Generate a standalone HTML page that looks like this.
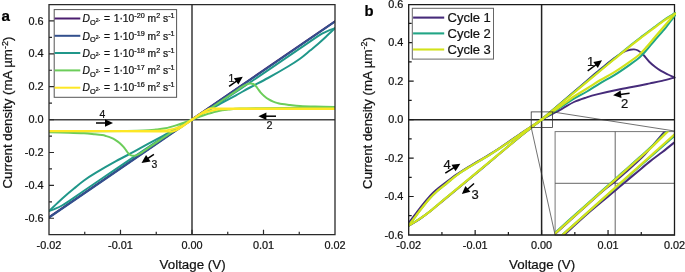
<!DOCTYPE html><html><head><meta charset="utf-8"><style>html,body{margin:0;padding:0;background:#fff;}svg{display:block;will-change:transform;}text{font-family:"Liberation Sans", sans-serif;stroke:#111;stroke-width:0.22px;paint-order:stroke;}</style></head><body>
<svg width="685" height="272" viewBox="0 0 685 272">
<rect width="685" height="272" fill="#fff"/>
<defs><clipPath id="ca"><rect x="49.0" y="4.6" width="286.0" height="230.1"/></clipPath>
<clipPath id="cb"><rect x="408.7" y="4.6" width="267.5" height="230.4"/></clipPath><clipPath id="ctip"><rect x="672.5" y="8" width="4" height="14"/></clipPath></defs>
<g stroke="#444" stroke-width="1.6" fill="none">
<line x1="49.0" y1="119.7" x2="335.0" y2="119.7"/>
<line x1="192.0" y1="4.6" x2="192.0" y2="234.7"/>
</g>
<g clip-path="url(#ca)" fill="none" stroke-linejoin="round" stroke-linecap="round">
<line x1="49" y1="217.16" x2="335" y2="21.24" stroke="#4a1d6f" stroke-width="2.0"/>
<line x1="49" y1="217.56" x2="335" y2="21.64" stroke="#33508d" stroke-width="2.0"/>
<path d="M192.00 119.60 C194.17 118.28 200.33 114.57 205.00 111.69 C209.67 108.81 214.17 106.07 220.00 102.32 C225.83 98.57 231.67 94.80 240.00 89.22 C248.33 83.64 260.00 75.67 270.00 68.87 C280.00 62.07 292.50 53.54 300.00 48.42 C307.50 43.30 311.33 40.60 315.00 38.14 C318.67 35.69 319.83 34.92 322.00 33.70 C324.17 32.48 325.83 31.72 328.00 30.80 C330.17 29.88 333.83 28.63 335.00 28.20" stroke="#20978a" stroke-width="2.0"/>
<path d="M192.00 119.60 C189.83 120.92 183.67 124.62 179.00 127.50 C174.33 130.38 169.83 133.13 164.00 136.88 C158.17 140.63 152.33 144.41 144.00 149.98 C135.67 155.55 124.00 163.53 114.00 170.33 C104.00 177.13 91.50 185.66 84.00 190.78 C76.50 195.90 72.67 198.60 69.00 201.06 C65.33 203.51 64.17 204.28 62.00 205.50 C59.83 206.72 58.17 207.48 56.00 208.40 C53.83 209.32 50.17 210.57 49.00 211.00" stroke="#20978a" stroke-width="2.0"/>
<path d="M335.00 28.20 C333.50 29.63 328.83 34.17 326.00 36.80 C323.17 39.43 320.67 41.70 318.00 44.00 C315.33 46.30 313.00 48.15 310.00 50.60 C307.00 53.05 303.67 56.05 300.00 58.70 C296.33 61.35 293.33 63.28 288.00 66.50 C282.67 69.72 274.33 74.50 268.00 78.00 C261.67 81.50 255.33 84.62 250.00 87.50 C244.67 90.38 241.00 92.57 236.00 95.30 C231.00 98.03 225.17 101.08 220.00 103.90 C214.83 106.72 209.67 109.58 205.00 112.20 C200.33 114.82 194.17 118.37 192.00 119.60" stroke="#20978a" stroke-width="2.0"/>
<path d="M49.00 211.00 C50.50 209.57 55.17 205.03 58.00 202.40 C60.83 199.77 63.33 197.50 66.00 195.20 C68.67 192.90 71.00 191.05 74.00 188.60 C77.00 186.15 80.33 183.15 84.00 180.50 C87.67 177.85 90.67 175.92 96.00 172.70 C101.33 169.48 109.67 164.70 116.00 161.20 C122.33 157.70 128.67 154.58 134.00 151.70 C139.33 148.82 143.00 146.63 148.00 143.90 C153.00 141.17 158.83 138.12 164.00 135.30 C169.17 132.48 174.33 129.62 179.00 127.00 C183.67 124.38 189.83 120.83 192.00 119.60" stroke="#20978a" stroke-width="2.0"/>
<path d="M192.00 119.60 C195.00 117.76 204.50 112.09 210.00 108.57 C215.50 105.05 220.67 101.41 225.00 98.49 C229.33 95.58 233.17 92.99 236.00 91.06 C238.83 89.13 240.25 88.01 242.00 86.90 C243.75 85.79 245.12 84.98 246.50 84.40 C247.88 83.82 249.15 83.47 250.30 83.40 C251.45 83.33 252.45 83.52 253.40 84.00 C254.35 84.48 255.23 85.47 256.00 86.30 C256.77 87.13 257.25 88.00 258.00 89.00 C258.75 90.00 259.43 91.10 260.50 92.30 C261.57 93.50 263.02 95.02 264.40 96.20 C265.78 97.38 267.33 98.50 268.80 99.40 C270.27 100.30 271.72 100.98 273.20 101.60 C274.68 102.22 276.23 102.68 277.70 103.10 C279.17 103.52 279.95 103.78 282.00 104.10 C284.05 104.42 287.00 104.70 290.00 105.00 C293.00 105.30 295.83 105.65 300.00 105.90 C304.17 106.15 309.17 106.33 315.00 106.50 C320.83 106.67 331.67 106.83 335.00 106.90" stroke="#6ccd5a" stroke-width="2.0"/>
<path d="M192.00 119.60 C189.00 121.44 179.50 127.11 174.00 130.63 C168.50 134.15 163.33 137.79 159.00 140.70 C154.67 143.62 150.83 146.21 148.00 148.14 C145.17 150.07 143.75 151.19 142.00 152.30 C140.25 153.41 138.88 154.22 137.50 154.80 C136.12 155.38 134.85 155.73 133.70 155.80 C132.55 155.87 131.55 155.68 130.60 155.20 C129.65 154.72 128.77 153.73 128.00 152.90 C127.23 152.07 126.75 151.20 126.00 150.20 C125.25 149.20 124.57 148.10 123.50 146.90 C122.43 145.70 120.98 144.18 119.60 143.00 C118.22 141.82 116.67 140.70 115.20 139.80 C113.73 138.90 112.28 138.22 110.80 137.60 C109.32 136.98 107.77 136.52 106.30 136.10 C104.83 135.68 104.05 135.42 102.00 135.10 C99.95 134.78 97.00 134.50 94.00 134.20 C91.00 133.90 88.17 133.55 84.00 133.30 C79.83 133.05 74.83 132.87 69.00 132.70 C63.17 132.53 52.33 132.37 49.00 132.30" stroke="#6ccd5a" stroke-width="2.0"/>
<path d="M335.00 107.30 C329.17 107.38 312.50 107.65 300.00 107.80 C287.50 107.95 270.00 108.07 260.00 108.20 C250.00 108.33 245.33 108.37 240.00 108.60 C234.67 108.83 231.57 109.22 228.00 109.60 C224.43 109.98 221.93 110.20 218.60 110.90 C215.27 111.60 211.10 112.85 208.00 113.80 C204.90 114.75 202.67 115.63 200.00 116.60 C197.33 117.57 193.33 119.10 192.00 119.60" stroke="#6ccd5a" stroke-width="2.0"/>
<path d="M49.00 131.90 C54.83 131.82 71.50 131.55 84.00 131.40 C96.50 131.25 114.00 131.13 124.00 131.00 C134.00 130.87 138.67 130.83 144.00 130.60 C149.33 130.37 152.43 129.98 156.00 129.60 C159.57 129.22 162.07 129.00 165.40 128.30 C168.73 127.60 172.90 126.35 176.00 125.40 C179.10 124.45 181.33 123.57 184.00 122.60 C186.67 121.63 190.67 120.10 192.00 119.60" stroke="#6ccd5a" stroke-width="2.0"/>
<path d="M192.00 119.60 C192.83 119.03 195.33 117.33 197.00 116.20 C198.67 115.07 200.42 113.82 202.00 112.80 C203.58 111.78 205.08 110.80 206.50 110.10 C207.92 109.40 209.08 108.90 210.50 108.60 C211.92 108.30 212.58 108.33 215.00 108.30 C217.42 108.27 205.00 108.35 225.00 108.40 C245.00 108.45 316.67 108.57 335.00 108.60" stroke="#fde725" stroke-width="2.0"/>
<path d="M192.00 119.60 C191.17 120.20 188.67 122.00 187.00 123.20 C185.33 124.40 183.58 125.72 182.00 126.80 C180.42 127.88 178.92 128.95 177.50 129.68 C176.08 130.41 174.92 130.90 173.50 131.20 C172.08 131.50 171.42 131.47 169.00 131.50 C166.58 131.53 179.00 131.45 159.00 131.40 C139.00 131.35 67.33 131.23 49.00 131.20" stroke="#fde725" stroke-width="2.0"/>
<path d="M335.00 108.90 C322.50 108.90 276.67 108.90 260.00 108.90 C243.33 108.90 241.63 108.85 235.00 108.90 C228.37 108.95 223.70 108.98 220.20 109.20 C216.70 109.42 216.03 109.78 214.00 110.20 C211.97 110.62 210.33 110.97 208.00 111.70 C205.67 112.43 202.67 113.28 200.00 114.60 C197.33 115.92 193.33 118.77 192.00 119.60" stroke="#fde725" stroke-width="2.0"/>
<path d="M49.00 130.90 C61.50 130.90 107.33 130.90 124.00 130.90 C140.67 130.90 142.37 130.95 149.00 130.90 C155.63 130.85 160.30 130.82 163.80 130.60 C167.30 130.38 167.97 130.02 170.00 129.60 C172.03 129.18 173.67 128.88 176.00 128.10 C178.33 127.32 181.33 126.34 184.00 124.92 C186.67 123.50 190.67 120.49 192.00 119.60" stroke="#fde725" stroke-width="2.0"/>
</g>
<path d="M49.0 4.6 H335.0 V234.7 H49.0 Z" fill="none" stroke="#2a2a2a" stroke-width="1.3"/>
<path d="M49.0 218.26 h5.0 M49.0 201.81 h3.0 M49.0 185.37 h5.0 M49.0 168.93 h3.0 M49.0 152.49 h5.0 M49.0 136.04 h3.0 M49.0 119.60 h5.0 M49.0 103.16 h3.0 M49.0 86.71 h5.0 M49.0 70.27 h3.0 M49.0 53.83 h5.0 M49.0 37.38 h3.0 M49.0 20.94 h5.0 M84.75 234.7 v-3.0 M120.50 234.7 v-5.0 M156.25 234.7 v-3.0 M192.00 234.7 v-5.0 M227.75 234.7 v-3.0 M263.50 234.7 v-5.0 M299.25 234.7 v-3.0" stroke="#2a2a2a" stroke-width="1.2" fill="none"/>
<rect x="54.2" y="9.6" width="122.4" height="87.7" fill="#fff" stroke="#555" stroke-width="1"/>
<line x1="54.6" y1="18.5" x2="80.3" y2="18.5" stroke="#4a1d6f" stroke-width="2.0"/>
<text x="82.6" y="22.2" font-size="10.3" fill="#111"><tspan font-style="italic">D</tspan><tspan font-size="7.4" dy="2.5">O</tspan><tspan font-size="5" dy="-3.2">2-</tspan><tspan dy="0.7" dx="1.0"> =</tspan><tspan dx="0.7"> 1·10</tspan><tspan font-size="7.2" dy="-4">-20</tspan><tspan dy="4"> m</tspan><tspan font-size="7.2" dy="-4">2</tspan><tspan dy="4"> s</tspan><tspan font-size="7.2" dy="-4">-1</tspan></text>
<line x1="54.6" y1="35.8" x2="80.3" y2="35.8" stroke="#33508d" stroke-width="2.0"/>
<text x="82.6" y="39.5" font-size="10.3" fill="#111"><tspan font-style="italic">D</tspan><tspan font-size="7.4" dy="2.5">O</tspan><tspan font-size="5" dy="-3.2">2-</tspan><tspan dy="0.7" dx="1.0"> =</tspan><tspan dx="0.7"> 1·10</tspan><tspan font-size="7.2" dy="-4">-19</tspan><tspan dy="4"> m</tspan><tspan font-size="7.2" dy="-4">2</tspan><tspan dy="4"> s</tspan><tspan font-size="7.2" dy="-4">-1</tspan></text>
<line x1="54.6" y1="53.0" x2="80.3" y2="53.0" stroke="#20978a" stroke-width="2.0"/>
<text x="82.6" y="56.7" font-size="10.3" fill="#111"><tspan font-style="italic">D</tspan><tspan font-size="7.4" dy="2.5">O</tspan><tspan font-size="5" dy="-3.2">2-</tspan><tspan dy="0.7" dx="1.0"> =</tspan><tspan dx="0.7"> 1·10</tspan><tspan font-size="7.2" dy="-4">-18</tspan><tspan dy="4"> m</tspan><tspan font-size="7.2" dy="-4">2</tspan><tspan dy="4"> s</tspan><tspan font-size="7.2" dy="-4">-1</tspan></text>
<line x1="54.6" y1="70.4" x2="80.3" y2="70.4" stroke="#6ccd5a" stroke-width="2.0"/>
<text x="82.6" y="74.1" font-size="10.3" fill="#111"><tspan font-style="italic">D</tspan><tspan font-size="7.4" dy="2.5">O</tspan><tspan font-size="5" dy="-3.2">2-</tspan><tspan dy="0.7" dx="1.0"> =</tspan><tspan dx="0.7"> 1·10</tspan><tspan font-size="7.2" dy="-4">-17</tspan><tspan dy="4"> m</tspan><tspan font-size="7.2" dy="-4">2</tspan><tspan dy="4"> s</tspan><tspan font-size="7.2" dy="-4">-1</tspan></text>
<line x1="54.6" y1="87.7" x2="80.3" y2="87.7" stroke="#fde725" stroke-width="2.0"/>
<text x="82.6" y="91.4" font-size="10.3" fill="#111"><tspan font-style="italic">D</tspan><tspan font-size="7.4" dy="2.5">O</tspan><tspan font-size="5" dy="-3.2">2-</tspan><tspan dy="0.7" dx="1.0"> =</tspan><tspan dx="0.7"> 1·10</tspan><tspan font-size="7.2" dy="-4">-16</tspan><tspan dy="4"> m</tspan><tspan font-size="7.2" dy="-4">2</tspan><tspan dy="4"> s</tspan><tspan font-size="7.2" dy="-4">-1</tspan></text>
<text x="43.6" y="221.9" font-size="10.9" text-anchor="end" fill="#111">-0.6</text>
<text x="43.6" y="189.0" font-size="10.9" text-anchor="end" fill="#111">-0.4</text>
<text x="43.6" y="156.1" font-size="10.9" text-anchor="end" fill="#111">-0.2</text>
<text x="43.6" y="123.2" font-size="10.9" text-anchor="end" fill="#111">0.0</text>
<text x="43.6" y="90.3" font-size="10.9" text-anchor="end" fill="#111">0.2</text>
<text x="43.6" y="57.4" font-size="10.9" text-anchor="end" fill="#111">0.4</text>
<text x="43.6" y="24.5" font-size="10.9" text-anchor="end" fill="#111">0.6</text>
<text x="49.0" y="248.8" font-size="10.9" text-anchor="middle" fill="#111">-0.02</text>
<text x="120.5" y="248.8" font-size="10.9" text-anchor="middle" fill="#111">-0.01</text>
<text x="192.0" y="248.8" font-size="10.9" text-anchor="middle" fill="#111">0.00</text>
<text x="263.5" y="248.8" font-size="10.9" text-anchor="middle" fill="#111">0.01</text>
<text x="335.0" y="248.8" font-size="10.9" text-anchor="middle" fill="#111">0.02</text>
<text x="192.6" y="268.5" font-size="13.35" text-anchor="middle" fill="#111">Voltage (V)</text>
<text transform="translate(12.3 112.6) rotate(-90)" font-size="13.25" text-anchor="middle" fill="#111">Current density (mA µm<tspan font-size="9" dy="-4.8">-2</tspan><tspan dy="4.8">)</tspan></text>
<text x="1.6" y="21.1" font-size="15.2" font-weight="bold" fill="#000" stroke="#000" stroke-width="0.2">a</text>
<line x1="229.1" y1="86.4" x2="236.9" y2="80.9" stroke="#000" stroke-width="1.5"/><path d="M242.80 76.70 L238.36 84.62 L233.85 78.26 Z" fill="#000"/>
<text x="228.6" y="81.6" font-size="10.4" fill="#111">1</text>
<line x1="276.0" y1="116.2" x2="265.4" y2="116.2" stroke="#000" stroke-width="1.5"/><path d="M258.40 116.20 L266.40 112.40 L266.40 120.00 Z" fill="#000"/>
<text x="266.6" y="128.9" font-size="10.8" fill="#111">2</text>
<line x1="153.9" y1="154.3" x2="147.5" y2="158.7" stroke="#000" stroke-width="1.5"/><path d="M141.50 162.90 L146.04 154.88 L150.60 161.46 Z" fill="#000"/>
<text x="151.4" y="167.9" font-size="10.4" fill="#111">3</text>
<line x1="96.0" y1="123.0" x2="106.0" y2="123.0" stroke="#000" stroke-width="1.5"/><path d="M113.00 123.00 L105.00 126.70 L105.00 119.30 Z" fill="#000"/>
<text x="99.6" y="117.6" font-size="10.4" fill="#111">4</text>
<g stroke="#222" stroke-width="1.5" fill="none">
<line x1="408.7" y1="119.7" x2="674.5" y2="119.7"/>
<line x1="541.6" y1="4.6" x2="541.6" y2="235.0"/>
</g>
<g clip-path="url(#cb)" fill="none" stroke-linejoin="round" stroke-linecap="round">
<path d="M541.40 119.60 C543.83 117.55 550.57 111.93 556.00 107.30 C561.43 102.67 567.67 97.27 574.00 91.80 C580.33 86.33 589.67 78.22 594.00 74.50 C598.33 70.78 597.83 71.28 600.00 69.50 C602.17 67.72 604.67 65.67 607.00 63.80 C609.33 61.93 611.83 59.90 614.00 58.30 C616.17 56.70 618.00 55.42 620.00 54.20 C622.00 52.98 624.33 51.73 626.00 51.00 C627.67 50.27 628.67 50.07 630.00 49.80 C631.33 49.53 632.67 49.28 634.00 49.40 C635.33 49.52 636.50 49.65 638.00 50.50 C639.50 51.35 641.17 52.67 643.00 54.50 C644.83 56.33 647.00 59.45 649.00 61.50 C651.00 63.55 653.00 65.23 655.00 66.80 C657.00 68.37 658.83 69.62 661.00 70.90 C663.17 72.18 665.75 73.40 668.00 74.50 C670.25 75.60 673.42 77.00 674.50 77.50" stroke="#462b7a" stroke-width="1.9"/>
<path d="M674.50 77.50 C672.42 78.05 666.08 79.82 662.00 80.80 C657.92 81.78 653.67 82.62 650.00 83.40 C646.33 84.18 645.00 84.52 640.00 85.50 C635.00 86.48 627.00 87.85 620.00 89.30 C613.00 90.75 603.67 92.82 598.00 94.20 C592.33 95.58 590.00 96.30 586.00 97.60 C582.00 98.90 578.00 100.13 574.00 102.00 C570.00 103.87 565.83 106.70 562.00 108.80 C558.17 110.90 554.40 112.80 551.00 114.60 C547.60 116.40 543.17 118.77 541.60 119.60" stroke="#462b7a" stroke-width="1.9"/>
<path d="M541.60 119.60 C538.83 121.43 530.27 127.05 525.00 130.60 C519.73 134.15 514.17 138.05 510.00 140.90 C505.83 143.75 503.33 145.50 500.00 147.70 C496.67 149.90 493.33 152.05 490.00 154.10 C486.67 156.15 483.33 158.00 480.00 160.00 C476.67 162.00 472.83 164.40 470.00 166.10 C467.17 167.80 465.33 168.75 463.00 170.20 C460.67 171.65 458.17 173.30 456.00 174.80 C453.83 176.30 452.00 177.72 450.00 179.20 C448.00 180.68 446.17 182.03 444.00 183.70 C441.83 185.37 439.33 187.18 437.00 189.20 C434.67 191.22 432.58 193.00 430.00 195.80 C427.42 198.60 424.00 202.88 421.50 206.00 C419.00 209.12 417.08 211.75 415.00 214.50 C412.92 217.25 410.00 221.17 409.00 222.50" stroke="#462b7a" stroke-width="1.9"/>
<path d="M541.60 119.90 C538.83 122.05 530.27 128.60 525.00 132.80 C519.73 137.00 516.17 139.98 510.00 145.10 C503.83 150.22 494.83 157.82 488.00 163.50 C481.17 169.18 476.33 173.13 469.00 179.20 C461.67 185.27 450.50 194.50 444.00 199.90 C437.50 205.30 434.00 208.43 430.00 211.60 C426.00 214.77 423.50 216.55 420.00 218.90 C416.50 221.25 410.83 224.57 409.00 225.70" stroke="#462b7a" stroke-width="1.9"/>
<path d="M541.60 119.60 C546.33 115.57 560.27 103.60 570.00 95.40 C579.73 87.20 592.33 76.77 600.00 70.40 C607.67 64.03 611.00 61.32 616.00 57.20 C621.00 53.08 625.67 49.17 630.00 45.70 C634.33 42.23 638.00 39.45 642.00 36.40 C646.00 33.35 650.33 30.13 654.00 27.40 C657.67 24.67 661.33 21.87 664.00 20.00 C666.67 18.13 668.17 17.35 670.00 16.20 C671.83 15.05 674.17 13.62 675.00 13.10" stroke="#21a585" stroke-width="2.0"/>
<path d="M675.00 15.20 C673.50 17.22 669.33 23.17 666.00 27.30 C662.67 31.43 658.17 36.28 655.00 40.00 C651.83 43.72 649.50 46.77 647.00 49.60 C644.50 52.43 642.83 54.50 640.00 57.00 C637.17 59.50 634.33 61.53 630.00 64.60 C625.67 67.67 619.00 72.28 614.00 75.40 C609.00 78.52 604.50 80.62 600.00 83.30 C595.50 85.98 591.33 88.94 587.00 91.50 C582.67 94.06 578.50 95.96 574.00 98.66 C569.50 101.36 565.40 104.24 560.00 107.73 C554.60 111.22 544.67 117.62 541.60 119.60" stroke="#21a585" stroke-width="2.0"/>
<path d="M541.60 119.60 C538.83 121.50 530.27 127.38 525.00 131.00 C519.73 134.62 514.17 138.43 510.00 141.30 C505.83 144.17 503.33 145.98 500.00 148.20 C496.67 150.42 493.33 152.53 490.00 154.60 C486.67 156.67 483.33 158.60 480.00 160.60 C476.67 162.60 472.83 164.88 470.00 166.60 C467.17 168.32 465.33 169.37 463.00 170.90 C460.67 172.43 458.17 174.18 456.00 175.80 C453.83 177.42 452.00 178.97 450.00 180.60 C448.00 182.23 446.17 183.82 444.00 185.60 C441.83 187.38 439.33 189.20 437.00 191.30 C434.67 193.40 432.58 195.33 430.00 198.20 C427.42 201.07 424.00 205.35 421.50 208.50 C419.00 211.65 417.08 214.33 415.00 217.10 C412.92 219.87 410.00 223.77 409.00 225.10" stroke="#21a585" stroke-width="2.0"/>
<path d="M541.60 119.60 C538.83 121.75 530.27 128.30 525.00 132.50 C519.73 136.70 516.17 139.68 510.00 144.80 C503.83 149.92 494.83 157.52 488.00 163.20 C481.17 168.88 476.33 172.83 469.00 178.90 C461.67 184.97 450.50 194.20 444.00 199.60 C437.50 205.00 434.00 208.13 430.00 211.30 C426.00 214.47 423.50 216.25 420.00 218.60 C416.50 220.95 410.83 224.27 409.00 225.40" stroke="#21a585" stroke-width="2.0"/>
<path d="M541.60 119.60 C546.33 115.67 560.27 104.10 570.00 96.00 C579.73 87.90 592.33 77.37 600.00 71.00 C607.67 64.63 611.00 61.92 616.00 57.80 C621.00 53.68 625.67 49.77 630.00 46.30 C634.33 42.83 638.00 40.05 642.00 37.00 C646.00 33.95 650.33 30.73 654.00 28.00 C657.67 25.27 661.33 22.47 664.00 20.60 C666.67 18.73 668.17 17.95 670.00 16.80 C671.83 15.65 674.17 14.22 675.00 13.70" stroke="#d2e21b" stroke-width="2.2"/>
<path d="M675.00 13.70 C673.50 15.47 669.33 20.42 666.00 24.30 C662.67 28.18 658.17 33.28 655.00 37.00 C651.83 40.72 649.50 43.77 647.00 46.60 C644.50 49.43 642.83 51.50 640.00 54.00 C637.17 56.50 634.33 58.53 630.00 61.60 C625.67 64.67 619.00 69.28 614.00 72.40 C609.00 75.52 604.50 77.62 600.00 80.30 C595.50 82.98 591.33 85.80 587.00 88.50 C582.67 91.20 578.50 93.50 574.00 96.50 C569.50 99.50 565.40 102.65 560.00 106.50 C554.60 110.35 544.67 117.42 541.60 119.60" stroke="#d2e21b" stroke-width="2.2"/>
<path d="M541.60 119.60 C538.83 121.50 530.27 127.38 525.00 131.00 C519.73 134.62 514.17 138.43 510.00 141.30 C505.83 144.17 503.33 145.98 500.00 148.20 C496.67 150.42 493.33 152.53 490.00 154.60 C486.67 156.67 483.33 158.60 480.00 160.60 C476.67 162.60 472.83 164.88 470.00 166.60 C467.17 168.32 465.33 169.37 463.00 170.90 C460.67 172.43 458.17 174.18 456.00 175.80 C453.83 177.42 452.00 178.97 450.00 180.60 C448.00 182.23 446.17 183.82 444.00 185.60 C441.83 187.38 439.33 189.20 437.00 191.30 C434.67 193.40 432.58 195.33 430.00 198.20 C427.42 201.07 424.00 205.35 421.50 208.50 C419.00 211.65 417.08 214.33 415.00 217.10 C412.92 219.87 410.00 223.77 409.00 225.10" stroke="#d2e21b" stroke-width="2.2"/>
<path d="M541.60 119.60 C538.83 121.75 530.27 128.30 525.00 132.50 C519.73 136.70 516.17 139.68 510.00 144.80 C503.83 149.92 494.83 157.52 488.00 163.20 C481.17 168.88 476.33 172.83 469.00 178.90 C461.67 184.97 450.50 194.20 444.00 199.60 C437.50 205.00 434.00 208.13 430.00 211.30 C426.00 214.47 423.50 216.25 420.00 218.60 C416.50 220.95 410.83 224.27 409.00 225.40" stroke="#d2e21b" stroke-width="2.2"/>
</g>
<rect x="555.1" y="131.6" width="119.4" height="103.4" fill="#fff" stroke="#777" stroke-width="1"/>
<g stroke="#555" stroke-width="0.9" fill="none">
<line x1="555.1" y1="183.3" x2="674.5" y2="183.3"/>
<line x1="615.2" y1="131.6" x2="615.2" y2="235.0"/>
</g>
<defs><clipPath id="ci"><rect x="555.1" y="131.6" width="119.4" height="103.4"/></clipPath></defs>
<g clip-path="url(#ci)" fill="none" stroke-linecap="butt">
<path d="M554.20 234.80 C558.25 231.13 570.28 220.18 578.50 212.80 C586.72 205.42 597.50 195.63 603.50 190.50 C609.50 185.37 611.05 184.82 614.50 182.00 C617.95 179.18 619.65 177.67 624.20 173.60 C628.75 169.53 637.25 162.07 641.80 157.60 C646.35 153.13 647.55 151.30 651.50 146.80 C655.45 142.30 663.17 133.30 665.50 130.60" stroke="#462b7a" stroke-width="2.0"/>
<path d="M552.70 234.80 C556.78 231.13 568.95 220.18 577.20 212.80 C585.45 205.42 594.87 197.03 602.20 190.50 C609.53 183.97 615.03 179.08 621.20 173.60 C627.37 168.12 634.20 162.07 639.20 157.60 C644.20 153.13 646.45 151.30 651.20 146.80 C655.95 142.30 664.95 133.30 667.70 130.60" stroke="#21a585" stroke-width="2.0"/>
<path d="M553.50 234.80 C557.58 231.13 569.75 220.18 578.00 212.80 C586.25 205.42 595.67 197.03 603.00 190.50 C610.33 183.97 615.83 179.08 622.00 173.60 C628.17 168.12 635.00 162.07 640.00 157.60 C645.00 153.13 647.25 151.30 652.00 146.80 C656.75 142.30 665.75 133.30 668.50 130.60" stroke="#d2e21b" stroke-width="2.3"/>
<path d="M563.50 235.50 C567.92 231.50 581.27 219.08 590.00 211.50 C598.73 203.92 610.32 194.68 615.90 190.00 C621.48 185.32 619.98 186.37 623.50 183.40 C627.02 180.43 632.58 175.87 637.00 172.20 C641.42 168.53 645.77 164.77 650.00 161.40 C654.23 158.03 658.15 155.32 662.40 152.00 C666.65 148.68 673.32 143.25 675.50 141.50" stroke="#462b7a" stroke-width="2.0"/>
<path d="M561.00 236.00 C570.90 227.23 601.32 200.23 620.40 183.40 C639.48 166.57 666.32 143.07 675.50 135.00" stroke="#21a585" stroke-width="2.0"/>
<path d="M560.20 237.00 L675.50 133.50" stroke="#d2e21b" stroke-width="2.3"/>
</g>
<rect x="531.2" y="111.9" width="21.3" height="15.5" fill="none" stroke="#333" stroke-width="0.8"/>
<line x1="552.5" y1="111.9" x2="674.5" y2="131.0" stroke="#333" stroke-width="0.7"/>
<line x1="531.2" y1="127.4" x2="555.1" y2="235.0" stroke="#333" stroke-width="0.7"/>
<path d="M408.7 4.6 H674.5 V235.0 H408.7 Z" fill="none" stroke="#1a1a1a" stroke-width="1.3"/>
<path d="M408.7 215.72 h3.0 M408.7 196.50 h5.0 M408.7 177.28 h3.0 M408.7 158.05 h5.0 M408.7 138.82 h3.0 M408.7 119.60 h5.0 M408.7 100.38 h3.0 M408.7 81.15 h5.0 M408.7 61.92 h3.0 M408.7 42.70 h5.0 M408.7 23.47 h3.0 M441.93 235.0 v-3.0 M475.15 235.0 v-5.0 M508.38 235.0 v-3.0 M541.60 235.0 v-5.0 M574.83 235.0 v-3.0 M608.05 235.0 v-5.0 M641.27 235.0 v-3.0" stroke="#1a1a1a" stroke-width="1.2" fill="none"/>
<g clip-path="url(#ctip)" fill="none" stroke-linejoin="round" stroke-linecap="round">
<path d="M654.00 27.40 C655.67 26.17 661.33 21.87 664.00 20.00 C666.67 18.13 668.17 17.35 670.00 16.20 C671.83 15.05 674.17 13.62 675.00 13.10" stroke="#21a585" stroke-width="2.0"/>
<path d="M675.00 15.20 C673.50 17.22 669.33 23.17 666.00 27.30 C662.67 31.43 658.17 36.28 655.00 40.00 C651.83 43.72 648.33 48.00 647.00 49.60" stroke="#21a585" stroke-width="2.0"/>
<path d="M654.00 28.00 C655.67 26.77 661.33 22.47 664.00 20.60 C666.67 18.73 668.17 17.95 670.00 16.80 C671.83 15.65 674.17 14.22 675.00 13.70" stroke="#d2e21b" stroke-width="2.2"/>
<path d="M675.00 13.70 C673.50 15.47 669.33 20.42 666.00 24.30 C662.67 28.18 658.17 33.28 655.00 37.00 C651.83 40.72 648.33 45.00 647.00 46.60" stroke="#d2e21b" stroke-width="2.2"/>
</g>
<rect x="412.3" y="8.3" width="81.2" height="50.8" fill="#fff" stroke="#666" stroke-width="1"/>
<line x1="413.1" y1="17.6" x2="444.2" y2="17.6" stroke="#462b7a" stroke-width="2.1"/>
<text x="447.5" y="22.0" font-size="13" fill="#111">Cycle 1</text>
<line x1="413.1" y1="33.4" x2="444.2" y2="33.4" stroke="#21a585" stroke-width="2.1"/>
<text x="447.5" y="37.8" font-size="13" fill="#111">Cycle 2</text>
<line x1="413.1" y1="49.5" x2="444.2" y2="49.5" stroke="#d2e21b" stroke-width="2.1"/>
<text x="447.5" y="53.9" font-size="13" fill="#111">Cycle 3</text>
<text x="403.4" y="238.6" font-size="10.9" text-anchor="end" fill="#111">-0.6</text>
<text x="403.4" y="200.1" font-size="10.9" text-anchor="end" fill="#111">-0.4</text>
<text x="403.4" y="161.7" font-size="10.9" text-anchor="end" fill="#111">-0.2</text>
<text x="403.4" y="123.2" font-size="10.9" text-anchor="end" fill="#111">0.0</text>
<text x="403.4" y="84.7" font-size="10.9" text-anchor="end" fill="#111">0.2</text>
<text x="403.4" y="46.3" font-size="10.9" text-anchor="end" fill="#111">0.4</text>
<text x="403.4" y="7.8" font-size="10.9" text-anchor="end" fill="#111">0.6</text>
<text x="408.7" y="248.8" font-size="10.9" text-anchor="middle" fill="#111">-0.02</text>
<text x="475.2" y="248.8" font-size="10.9" text-anchor="middle" fill="#111">-0.01</text>
<text x="541.6" y="248.8" font-size="10.9" text-anchor="middle" fill="#111">0.00</text>
<text x="608.1" y="248.8" font-size="10.9" text-anchor="middle" fill="#111">0.01</text>
<text x="674.5" y="248.8" font-size="10.9" text-anchor="middle" fill="#111">0.02</text>
<text x="542.1" y="268.5" font-size="13.35" text-anchor="middle" fill="#111">Voltage (V)</text>
<text transform="translate(371.8 113.0) rotate(-90)" font-size="13.25" text-anchor="middle" fill="#111">Current density (mA µm<tspan font-size="9" dy="-4.8">-2</tspan><tspan dy="4.8">)</tspan></text>
<text x="364.6" y="15.5" font-size="14.8" font-weight="bold" fill="#000" stroke="#000" stroke-width="0.2">b</text>
<line x1="587.7" y1="70.9" x2="596.4" y2="64.5" stroke="#000" stroke-width="1.5"/><path d="M602.00 60.30 L597.84 68.12 L593.31 62.01 Z" fill="#000"/>
<text x="587" y="66" font-size="13" fill="#111">1</text>
<line x1="629.6" y1="93.3" x2="620.1" y2="94.4" stroke="#000" stroke-width="1.5"/><path d="M613.10 95.20 L620.61 90.51 L621.48 98.06 Z" fill="#000"/>
<text x="621" y="107.8" font-size="13" fill="#111">2</text>
<line x1="474.0" y1="183.5" x2="467.2" y2="189.5" stroke="#000" stroke-width="1.5"/><path d="M461.90 194.10 L465.41 185.97 L470.42 191.69 Z" fill="#000"/>
<text x="471.5" y="198.9" font-size="13" fill="#111">3</text>
<line x1="445.3" y1="173.1" x2="454.4" y2="167.4" stroke="#000" stroke-width="1.5"/><path d="M460.30 163.70 L455.54 171.17 L451.50 164.73 Z" fill="#000"/>
<text x="443.6" y="168.7" font-size="13" fill="#111">4</text>
</svg></body></html>
